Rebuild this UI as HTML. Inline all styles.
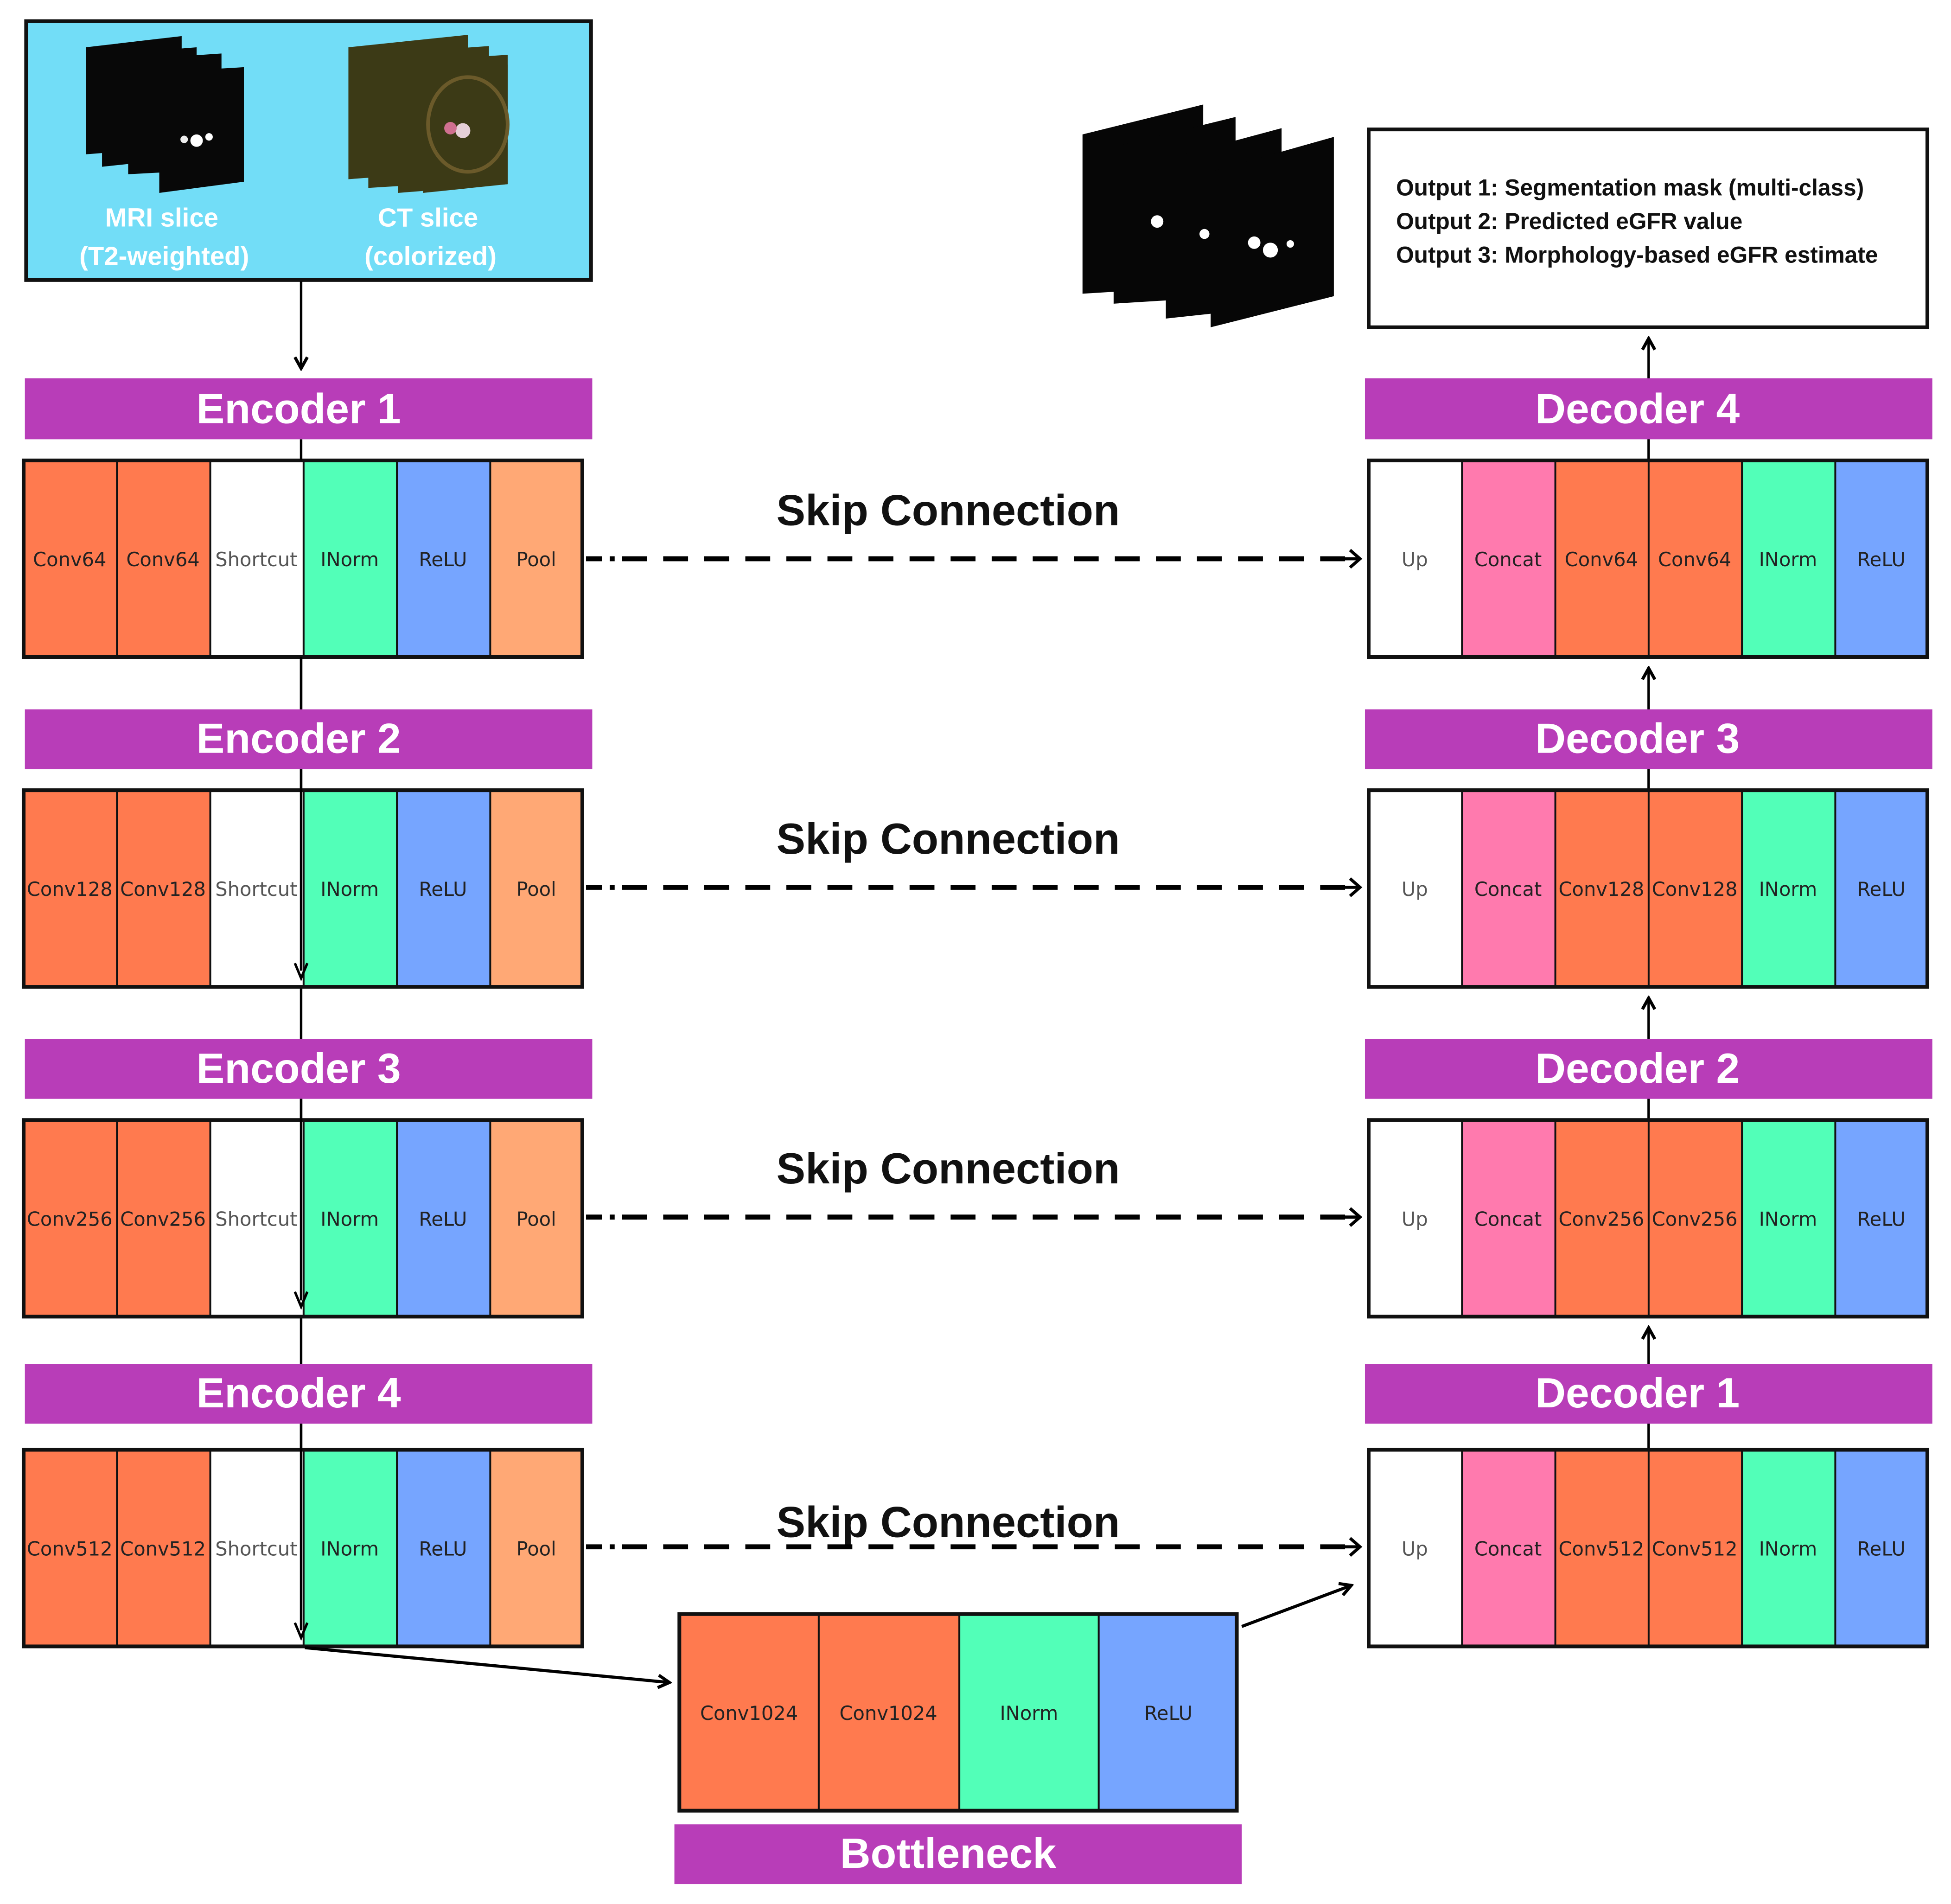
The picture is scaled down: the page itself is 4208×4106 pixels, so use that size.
<!DOCTYPE html>
<html><head><meta charset="utf-8"><style>
html,body{margin:0;padding:0;background:#fff;}
svg{display:block;}
.cell{font-family:"DejaVu Sans","Liberation Sans",sans-serif;font-size:15.5px;text-anchor:middle;fill:#222;}
.gray{fill:#555;}
.bar{font-family:"Liberation Sans",sans-serif;font-weight:bold;font-size:34px;fill:#fff;text-anchor:middle;}
.skip{font-family:"Liberation Sans",sans-serif;font-weight:bold;font-size:35px;fill:#111;text-anchor:middle;}
.inlbl{font-family:"Liberation Sans",sans-serif;font-weight:bold;font-size:21px;fill:#fff;text-anchor:middle;}
.out{font-family:"Liberation Sans",sans-serif;font-weight:bold;font-size:18.5px;fill:#111;}
</style></head><body>
<svg width="4208" height="4106" viewBox="0 0 1568 1530" xmlns="http://www.w3.org/2000/svg">
<defs>
<marker id="ah" markerWidth="12" markerHeight="12" refX="10" refY="6" orient="auto" markerUnits="userSpaceOnUse">
<path d="M1,1 L10,6 L1,11" fill="none" stroke="#000" stroke-width="2.5"/>
</marker>
</defs>

<!-- input box -->
<rect x="21" y="17" width="454" height="208" fill="#72DDF7" stroke="#111" stroke-width="3"/>
<polygon points="69,38 146,29 146,118 69,124" fill="#080808"/>
<polygon points="82,44 158,38 158,126 82,134" fill="#080808"/>
<polygon points="103,48 178,43 178,136 103,140" fill="#080808"/>
<polygon points="128,58 196,54 196,146 128,155" fill="#080808"/>
<circle cx="158" cy="113" r="5" fill="#fff"/><circle cx="168" cy="110" r="3" fill="#fff"/><circle cx="148" cy="112" r="3" fill="#eee"/>
<polygon points="280,38 376,28 376,137 280,144" fill="#3c3a16"/>
<polygon points="296,44 393,37 393,145 296,151" fill="#3c3a16"/>
<polygon points="320,50 408,44 408,148 320,155" fill="#3c3a16"/>
<polygon points="340,56 408,52 408,148 340,155" fill="#3c3a16"/>
<ellipse cx="376" cy="100" rx="32" ry="38" fill="none" stroke="#6b5a2a" stroke-width="3"/>
<circle cx="372" cy="105" r="6" fill="#e6d0d8"/><circle cx="362" cy="103" r="5" fill="#d07090"/>
<text class="inlbl" x="130" y="182">MRI slice</text>
<text class="inlbl" x="132" y="213">(T2-weighted)</text>
<text class="inlbl" x="344" y="182">CT slice</text>
<text class="inlbl" x="346" y="213">(colorized)</text>
<line x1="242" y1="226" x2="242" y2="296" stroke="#000" stroke-width="2" marker-end="url(#ah)"/>

<!-- encoder/decoder vertical lines -->
<line x1="242" y1="529" x2="242" y2="786" stroke="#000" stroke-width="2" marker-end="url(#ah)"/>
<line x1="242" y1="794" x2="242" y2="1050" stroke="#000" stroke-width="2" marker-end="url(#ah)"/>
<line x1="242" y1="1058" x2="242" y2="1316" stroke="#000" stroke-width="2" marker-end="url(#ah)"/>

<!-- output mask stack -->
<polygon points="870,108 967,84 967,230 870,236" fill="#060606"/>
<polygon points="895,118 993,94 993,238 895,244" fill="#060606"/>
<polygon points="937,128 1030,103 1030,246 937,256" fill="#060606"/>
<polygon points="973,138 1072,110 1072,238 973,263" fill="#060606"/>
<circle cx="930" cy="178" r="5" fill="#fff"/><circle cx="968" cy="188" r="4" fill="#fff"/><circle cx="1008" cy="195" r="5" fill="#fff"/><circle cx="1021" cy="201" r="6" fill="#fff"/><circle cx="1037" cy="196" r="3" fill="#fff"/>

<!-- output box -->
<rect x="1100" y="104" width="449" height="159" fill="#fff" stroke="#111" stroke-width="3"/>
<text class="out" x="1122" y="157">Output 1: Segmentation mask (multi-class)</text>
<text class="out" x="1122" y="184">Output 2: Predicted eGFR value</text>
<text class="out" x="1122" y="211">Output 3: Morphology-based eGFR estimate</text>

<line x1="1325" y1="369" x2="1325" y2="272" stroke="#000" stroke-width="2" marker-end="url(#ah)"/>
<line x1="1325" y1="634" x2="1325" y2="537" stroke="#000" stroke-width="2" marker-end="url(#ah)"/>
<line x1="1325" y1="899" x2="1325" y2="802" stroke="#000" stroke-width="2" marker-end="url(#ah)"/>
<line x1="1325" y1="1164" x2="1325" y2="1067" stroke="#000" stroke-width="2" marker-end="url(#ah)"/>

<!-- bars -->
<g>
<rect x="20" y="304" width="456" height="49" fill="#B83DB8"/><text class="bar" x="240" y="340">Encoder 1</text>
<rect x="20" y="570" width="456" height="48" fill="#B83DB8"/><text class="bar" x="240" y="605">Encoder 2</text>
<rect x="20" y="835" width="456" height="48" fill="#B83DB8"/><text class="bar" x="240" y="870">Encoder 3</text>
<rect x="20" y="1096" width="456" height="48" fill="#B83DB8"/><text class="bar" x="240" y="1131">Encoder 4</text>
<rect x="1097" y="304" width="456" height="49" fill="#B83DB8"/><text class="bar" x="1316" y="340">Decoder 4</text>
<rect x="1097" y="570" width="456" height="48" fill="#B83DB8"/><text class="bar" x="1316" y="605">Decoder 3</text>
<rect x="1097" y="835" width="456" height="48" fill="#B83DB8"/><text class="bar" x="1316" y="870">Decoder 2</text>
<rect x="1097" y="1096" width="456" height="48" fill="#B83DB8"/><text class="bar" x="1316" y="1131">Decoder 1</text>
<rect x="542" y="1466" width="456" height="48" fill="#B83DB8"/><text class="bar" x="762" y="1501">Bottleneck</text>
</g>

<!-- encoder blocks -->
<g id="enc">
<g transform="translate(0,0)">
<rect x="19" y="370" width="75" height="158" fill="#FF7A4F"/><rect x="94" y="370" width="75" height="158" fill="#FF7A4F"/>
<rect x="169" y="370" width="75" height="158" fill="#fff"/><rect x="244" y="370" width="75" height="158" fill="#52FFB8"/>
<rect x="319" y="370" width="75" height="158" fill="#76A5FF"/><rect x="394" y="370" width="74" height="158" fill="#FFA875"/>
<path d="M94,370V528M169,370V528M244,370V528M319,370V528M394,370V528" stroke="#111" stroke-width="1.5"/>
<rect x="19" y="370" width="449" height="158" fill="none" stroke="#111" stroke-width="3"/>
<text class="cell" x="56" y="455">Conv64</text><text class="cell" x="131" y="455">Conv64</text><text class="cell gray" x="206" y="455">Shortcut</text>
<text class="cell" x="281" y="455">INorm</text><text class="cell" x="356" y="455">ReLU</text><text class="cell" x="431" y="455">Pool</text>
</g>
</g>
<g transform="translate(0,265)">
<rect x="19" y="370" width="75" height="158" fill="#FF7A4F"/><rect x="94" y="370" width="75" height="158" fill="#FF7A4F"/>
<rect x="169" y="370" width="75" height="158" fill="#fff"/><rect x="244" y="370" width="75" height="158" fill="#52FFB8"/>
<rect x="319" y="370" width="75" height="158" fill="#76A5FF"/><rect x="394" y="370" width="74" height="158" fill="#FFA875"/>
<path d="M94,370V528M169,370V528M244,370V528M319,370V528M394,370V528" stroke="#111" stroke-width="1.5"/>
<rect x="19" y="370" width="449" height="158" fill="none" stroke="#111" stroke-width="3"/>
<text class="cell" x="56" y="455">Conv128</text><text class="cell" x="131" y="455">Conv128</text><text class="cell gray" x="206" y="455">Shortcut</text>
<text class="cell" x="281" y="455">INorm</text><text class="cell" x="356" y="455">ReLU</text><text class="cell" x="431" y="455">Pool</text>
</g>
<g transform="translate(0,530)">
<rect x="19" y="370" width="75" height="158" fill="#FF7A4F"/><rect x="94" y="370" width="75" height="158" fill="#FF7A4F"/>
<rect x="169" y="370" width="75" height="158" fill="#fff"/><rect x="244" y="370" width="75" height="158" fill="#52FFB8"/>
<rect x="319" y="370" width="75" height="158" fill="#76A5FF"/><rect x="394" y="370" width="74" height="158" fill="#FFA875"/>
<path d="M94,370V528M169,370V528M244,370V528M319,370V528M394,370V528" stroke="#111" stroke-width="1.5"/>
<rect x="19" y="370" width="449" height="158" fill="none" stroke="#111" stroke-width="3"/>
<text class="cell" x="56" y="455">Conv256</text><text class="cell" x="131" y="455">Conv256</text><text class="cell gray" x="206" y="455">Shortcut</text>
<text class="cell" x="281" y="455">INorm</text><text class="cell" x="356" y="455">ReLU</text><text class="cell" x="431" y="455">Pool</text>
</g>
<g transform="translate(0,795)">
<rect x="19" y="370" width="75" height="158" fill="#FF7A4F"/><rect x="94" y="370" width="75" height="158" fill="#FF7A4F"/>
<rect x="169" y="370" width="75" height="158" fill="#fff"/><rect x="244" y="370" width="75" height="158" fill="#52FFB8"/>
<rect x="319" y="370" width="75" height="158" fill="#76A5FF"/><rect x="394" y="370" width="74" height="158" fill="#FFA875"/>
<path d="M94,370V528M169,370V528M244,370V528M319,370V528M394,370V528" stroke="#111" stroke-width="1.5"/>
<rect x="19" y="370" width="449" height="158" fill="none" stroke="#111" stroke-width="3"/>
<text class="cell" x="56" y="455">Conv512</text><text class="cell" x="131" y="455">Conv512</text><text class="cell gray" x="206" y="455">Shortcut</text>
<text class="cell" x="281" y="455">INorm</text><text class="cell" x="356" y="455">ReLU</text><text class="cell" x="431" y="455">Pool</text>
</g>

<!-- redraw encoder vertical line over blocks -->
<path d="M242,353V370M242,528V570M242,618V780M242,883V1045M242,1144V1310" stroke="#000" stroke-width="2"/>
<path d="M237,774L242,786L247,774M237,1038L242,1050L247,1038M237,1304L242,1316L247,1304" fill="none" stroke="#000" stroke-width="2"/>

<!-- decoder blocks -->
<g transform="translate(0,0)">
<rect x="1100" y="370" width="75" height="158" fill="#fff"/><rect x="1175" y="370" width="75" height="158" fill="#FF7AAE"/>
<rect x="1250" y="370" width="75" height="158" fill="#FF7A4F"/><rect x="1325" y="370" width="75" height="158" fill="#FF7A4F"/>
<rect x="1400" y="370" width="75" height="158" fill="#52FFB8"/><rect x="1475" y="370" width="74" height="158" fill="#76A5FF"/>
<path d="M1175,370V528M1250,370V528M1325,370V528M1400,370V528M1475,370V528" stroke="#111" stroke-width="1.5"/>
<rect x="1100" y="370" width="449" height="158" fill="none" stroke="#111" stroke-width="3"/>
<text class="cell gray" x="1137" y="455">Up</text><text class="cell" x="1212" y="455">Concat</text><text class="cell" x="1287" y="455">Conv64</text>
<text class="cell" x="1362" y="455">Conv64</text><text class="cell" x="1437" y="455">INorm</text><text class="cell" x="1512" y="455">ReLU</text>
</g>
<g transform="translate(0,265)">
<rect x="1100" y="370" width="75" height="158" fill="#fff"/><rect x="1175" y="370" width="75" height="158" fill="#FF7AAE"/>
<rect x="1250" y="370" width="75" height="158" fill="#FF7A4F"/><rect x="1325" y="370" width="75" height="158" fill="#FF7A4F"/>
<rect x="1400" y="370" width="75" height="158" fill="#52FFB8"/><rect x="1475" y="370" width="74" height="158" fill="#76A5FF"/>
<path d="M1175,370V528M1250,370V528M1325,370V528M1400,370V528M1475,370V528" stroke="#111" stroke-width="1.5"/>
<rect x="1100" y="370" width="449" height="158" fill="none" stroke="#111" stroke-width="3"/>
<text class="cell gray" x="1137" y="455">Up</text><text class="cell" x="1212" y="455">Concat</text><text class="cell" x="1287" y="455">Conv128</text>
<text class="cell" x="1362" y="455">Conv128</text><text class="cell" x="1437" y="455">INorm</text><text class="cell" x="1512" y="455">ReLU</text>
</g>
<g transform="translate(0,530)">
<rect x="1100" y="370" width="75" height="158" fill="#fff"/><rect x="1175" y="370" width="75" height="158" fill="#FF7AAE"/>
<rect x="1250" y="370" width="75" height="158" fill="#FF7A4F"/><rect x="1325" y="370" width="75" height="158" fill="#FF7A4F"/>
<rect x="1400" y="370" width="75" height="158" fill="#52FFB8"/><rect x="1475" y="370" width="74" height="158" fill="#76A5FF"/>
<path d="M1175,370V528M1250,370V528M1325,370V528M1400,370V528M1475,370V528" stroke="#111" stroke-width="1.5"/>
<rect x="1100" y="370" width="449" height="158" fill="none" stroke="#111" stroke-width="3"/>
<text class="cell gray" x="1137" y="455">Up</text><text class="cell" x="1212" y="455">Concat</text><text class="cell" x="1287" y="455">Conv256</text>
<text class="cell" x="1362" y="455">Conv256</text><text class="cell" x="1437" y="455">INorm</text><text class="cell" x="1512" y="455">ReLU</text>
</g>
<g transform="translate(0,795)">
<rect x="1100" y="370" width="75" height="158" fill="#fff"/><rect x="1175" y="370" width="75" height="158" fill="#FF7AAE"/>
<rect x="1250" y="370" width="75" height="158" fill="#FF7A4F"/><rect x="1325" y="370" width="75" height="158" fill="#FF7A4F"/>
<rect x="1400" y="370" width="75" height="158" fill="#52FFB8"/><rect x="1475" y="370" width="74" height="158" fill="#76A5FF"/>
<path d="M1175,370V528M1250,370V528M1325,370V528M1400,370V528M1475,370V528" stroke="#111" stroke-width="1.5"/>
<rect x="1100" y="370" width="449" height="158" fill="none" stroke="#111" stroke-width="3"/>
<text class="cell gray" x="1137" y="455">Up</text><text class="cell" x="1212" y="455">Concat</text><text class="cell" x="1287" y="455">Conv512</text>
<text class="cell" x="1362" y="455">Conv512</text><text class="cell" x="1437" y="455">INorm</text><text class="cell" x="1512" y="455">ReLU</text>
</g>

<!-- skip connections -->
<g>
<text class="skip" x="762" y="422">Skip Connection</text>
<text class="skip" x="762" y="686">Skip Connection</text>
<text class="skip" x="762" y="951">Skip Connection</text>
<text class="skip" x="762" y="1235">Skip Connection</text>
<g stroke="#000" stroke-width="4" stroke-dasharray="13 6 4 6 20 13 20 13 20 13 20 13 20 13 20 13 20 13 20 13 20 13 20 13 20 13 20 13 20 13 20 13 20 13 20 13 20 13 20 13 20 13 20 13 20 13 20 13 20 13" fill="none">
<line x1="471" y1="449" x2="1086" y2="449"/>
<line x1="471" y1="713" x2="1086" y2="713"/>
<line x1="471" y1="978" x2="1086" y2="978"/>
<line x1="471" y1="1243" x2="1086" y2="1243"/>
</g>
<g fill="none" stroke="#000" stroke-width="2.5">
<path d="M1076,449H1092M1085,442L1093,449L1085,456"/>
<path d="M1076,713H1092M1085,706L1093,713L1085,720"/>
<path d="M1076,978H1092M1085,971L1093,978L1085,985"/>
<path d="M1076,1243H1092M1085,1236L1093,1243L1085,1250"/>
</g>
</g>

<!-- bottleneck -->
<rect x="546" y="1297" width="112" height="158" fill="#FF7A4F"/><rect x="658" y="1297" width="113" height="158" fill="#FF7A4F"/>
<rect x="771" y="1297" width="112" height="158" fill="#52FFB8"/><rect x="883" y="1297" width="111" height="158" fill="#76A5FF"/>
<path d="M658,1297V1455M771,1297V1455M883,1297V1455" stroke="#111" stroke-width="1.5"/>
<rect x="546" y="1297" width="448" height="158" fill="none" stroke="#111" stroke-width="3"/>
<text class="cell" x="602" y="1382">Conv1024</text><text class="cell" x="714" y="1382">Conv1024</text>
<text class="cell" x="827" y="1382">INorm</text><text class="cell" x="939" y="1382">ReLU</text>

<line x1="245" y1="1324" x2="538" y2="1352" stroke="#000" stroke-width="2.5" marker-end="url(#ah)"/>
<line x1="998" y1="1307" x2="1086" y2="1274" stroke="#000" stroke-width="2.5" marker-end="url(#ah)"/>
</svg>
</body></html>
